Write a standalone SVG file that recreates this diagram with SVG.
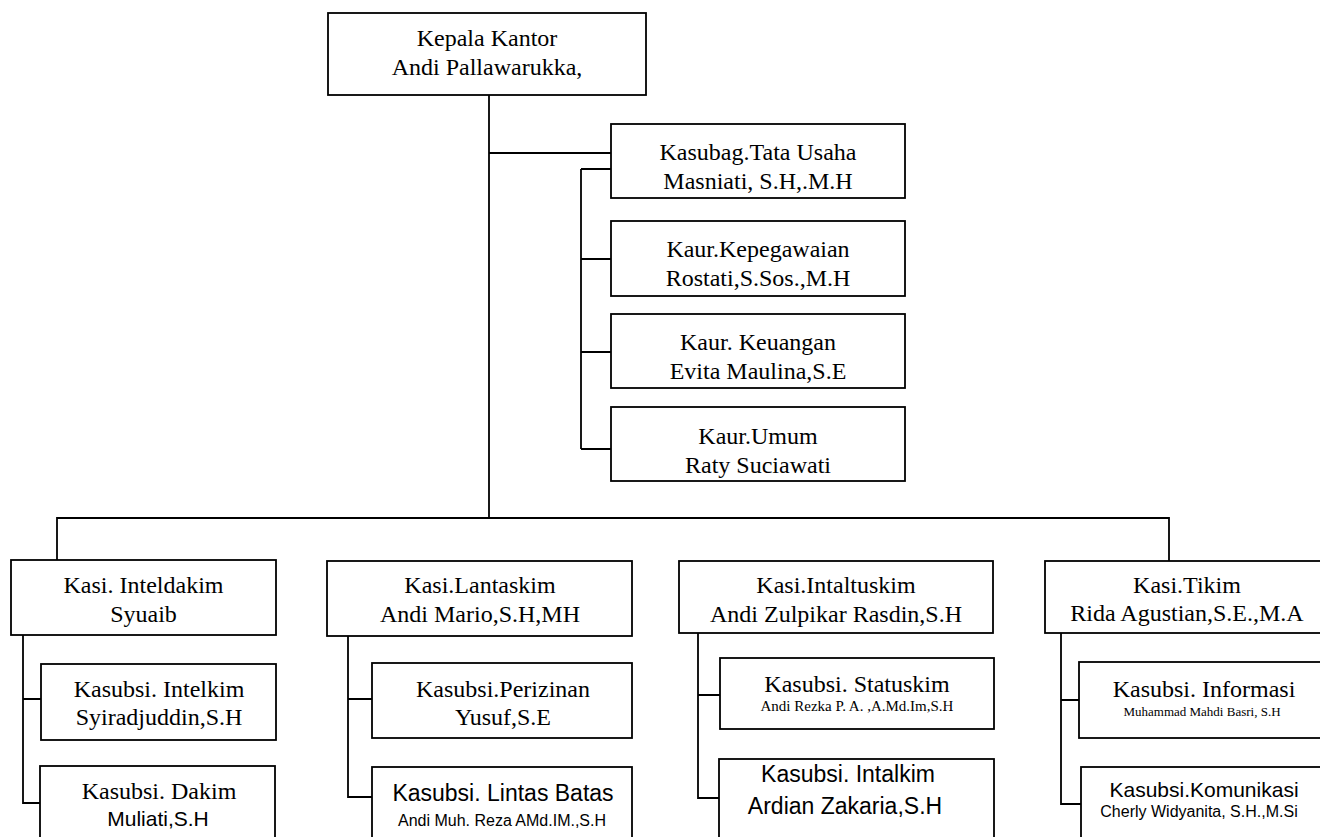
<svg xmlns="http://www.w3.org/2000/svg" width="1320" height="837" viewBox="0 0 1320 837">
<style>
.box{fill:#fff;stroke:#000;stroke-width:1.8}
.s{font-family:"Liberation Serif","Times New Roman",serif;font-size:24px;text-anchor:middle;fill:#000}
.a{font-family:"Liberation Sans",Arial,sans-serif;font-size:23px;text-anchor:middle;fill:#000}
.conn path{fill:none;stroke:#000;stroke-width:1.8}
</style>
<rect width="1320" height="837" fill="#fff"/>
<g class="conn" id="connectors">
<path d="M489,95 V518"/>
<path d="M489,153 H611"/>
<path d="M581,169 V449 M581,169 H611 M581,259 H611 M581,352 H611 M581,449 H611"/>
<path d="M57,560 V518 H1169 V561"/>
<path d="M23,635 V803 H40 M23,699 H41"/>
<path d="M348,636 V797 H372 M348,699 H372"/>
<path d="M698,633 V798 H719 M698,695 H720"/>
<path d="M1061,633 V804 H1081 M1061,700 H1079"/>
</g>
<g id="kepala"><rect class="box" x="328" y="13" width="318" height="82"/><text class="s" x="487" y="46">Kepala Kantor</text><text class="s" x="487" y="75">Andi Pallawarukka,</text></g>
<g id="kasubag"><rect class="box" x="611" y="124" width="294" height="74"/><text class="s" x="758" y="160">Kasubag.Tata Usaha</text><text class="s" x="758" y="189">Masniati, S.H,.M.H</text></g>
<g id="kepegawaian"><rect class="box" x="611" y="221" width="294" height="75"/><text class="s" x="758" y="257">Kaur.Kepegawaian</text><text class="s" x="758" y="286">Rostati,S.Sos.,M.H</text></g>
<g id="keuangan"><rect class="box" x="611" y="314" width="294" height="74"/><text class="s" x="758" y="350">Kaur. Keuangan</text><text class="s" x="758" y="379">Evita Maulina,S.E</text></g>
<g id="umum"><rect class="box" x="611" y="407" width="294" height="74"/><text class="s" x="758" y="444">Kaur.Umum</text><text class="s" x="758" y="473">Raty Suciawati</text></g>
<g id="inteldakim"><rect class="box" x="11" y="560" width="265" height="75"/><text class="s" x="143.5" y="593">Kasi. Inteldakim</text><text class="s" x="143.5" y="622">Syuaib</text></g>
<g id="intelkim"><rect class="box" x="41" y="664" width="235" height="76"/><text class="s" x="159" y="697">Kasubsi. Intelkim</text><text class="s" x="159" y="725">Syiradjuddin,S.H</text></g>
<g id="dakim"><rect class="box" x="40" y="766" width="235" height="85"/><text class="s" x="159" y="799">Kasubsi. Dakim</text><text class="a" x="158" y="826" style="font-size:21px">Muliati,S.H</text></g>
<g id="lantaskim"><rect class="box" x="327" y="561" width="305" height="75"/><text class="s" x="480" y="593">Kasi.Lantaskim</text><text class="s" x="480" y="622">Andi Mario,S.H,MH</text></g>
<g id="perizinan"><rect class="box" x="372" y="663" width="260" height="75"/><text class="s" x="503" y="697">Kasubsi.Perizinan</text><text class="s" x="503" y="725">Yusuf,S.E</text></g>
<g id="lintasbatas"><rect class="box" x="372" y="767" width="260" height="85"/><text class="a" x="503" y="801">Kasubsi. Lintas Batas</text><text class="a" x="502" y="826" style="font-size:16px">Andi Muh. Reza AMd.IM.,S.H</text></g>
<g id="intaltuskim"><rect class="box" x="679" y="561" width="314" height="72"/><text class="s" x="836" y="593">Kasi.Intaltuskim</text><text class="s" x="836" y="622">Andi Zulpikar Rasdin,S.H</text></g>
<g id="statuskim"><rect class="box" x="720" y="658" width="274" height="71"/><text class="s" x="857" y="692">Kasubsi. Statuskim</text><text class="s" x="857" y="711" style="font-size:15px">Andi Rezka P. A. ,A.Md.Im,S.H</text></g>
<g id="intalkim"><rect class="box" x="719" y="759" width="275" height="90"/><text class="a" x="848" y="782">Kasubsi. Intalkim</text><text class="a" x="845" y="814">Ardian Zakaria,S.H</text></g>
<g id="tikim"><rect class="box" x="1045" y="561" width="284" height="72"/><text class="s" x="1187" y="593">Kasi.Tikim</text><text class="s" x="1187" y="621">Rida Agustian,S.E.,M.A</text></g>
<g id="informasi"><rect class="box" x="1079" y="662" width="248" height="76"/><text class="s" x="1204" y="697">Kasubsi. Informasi</text><text class="s" x="1202" y="716" style="font-size:13px">Muhammad Mahdi Basri, S.H</text></g>
<g id="komunikasi"><rect class="box" x="1081" y="767" width="248" height="85"/><text class="a" x="1204" y="797" style="font-size:21px">Kasubsi.Komunikasi</text><text class="a" x="1199" y="817" style="font-size:16px">Cherly Widyanita, S.H.,M.Si</text></g>
</svg>
